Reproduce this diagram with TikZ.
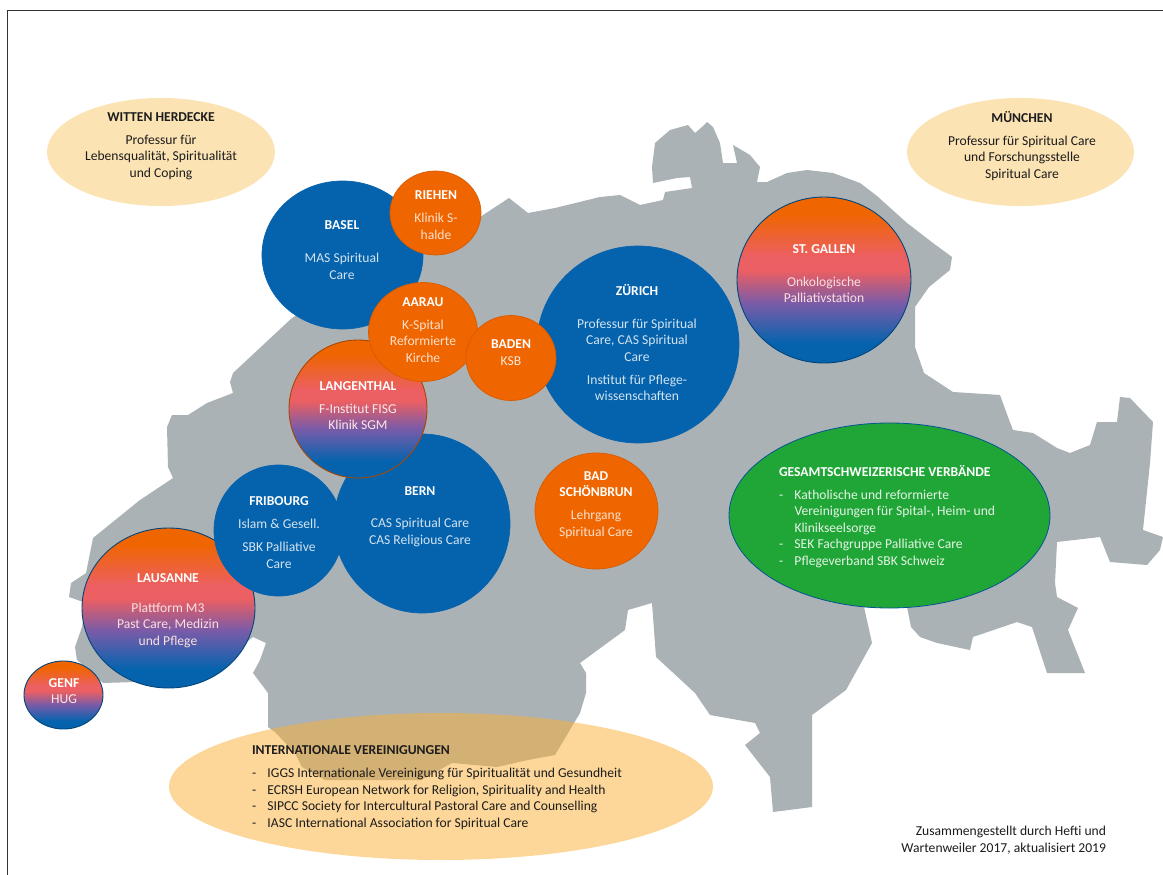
\documentclass[tikz,border=0pt]{standalone}
\usepackage{fontspec}
\setmainfont{Carlito}
\usetikzlibrary{shapes.geometric}
\definecolor{mapgrey}{HTML}{ABB2B6}
\definecolor{cblue}{HTML}{0563AE}
\definecolor{corange}{HTML}{EF6500}
\definecolor{csalmon}{HTML}{EC5F62}
\definecolor{cpurple}{HTML}{7A5BA8}
\definecolor{cgreen}{HTML}{20A636}
\definecolor{cpale}{HTML}{FBE3B4}
\definecolor{cintl}{HTML}{FBB034}
\definecolor{ink}{HTML}{1C1C1C}
\pgfdeclareverticalshading{palgrad}{100bp}{
  color(0bp)=(cblue); color(31bp)=(cblue); color(43bp)=(cpurple);
  color(53bp)=(csalmon); color(57bp)=(csalmon); color(70bp)=(corange); color(100bp)=(corange)}
\tikzset{
  bubble/.style={ellipse,inner sep=0pt,outer sep=0pt},
  blueb/.style={draw=cblue,line width=.7pt,fill=cblue},
  orangeb/.style={draw=corange!90!black,line width=.7pt,fill=corange},
  gradb/.style={draw=#1,line width=.9pt,shading=palgrad},
  paleb/.style={fill=cpale},
  txt/.style={inner sep=0pt,outer sep=0pt,align=center,font=\fontsize{13.6}{16.5}\selectfont},
  txtl/.style={txt,align=left,anchor=west},
  onblue/.style={txt,text=white},
  inkt/.style={txt,text=ink}
}
\newcommand{\hd}[1]{\textbf{\textcolor{white}{#1}}}
\newcommand{\hk}[1]{\textbf{#1}}
\newcommand{\li}{\makebox[15.5pt][l]{-}}
\newcommand{\ind}{\hspace*{15.5pt}}
\begin{document}
\begin{tikzpicture}[x=1pt,y=-1pt]
\useasboundingbox (0,0) rectangle (1163,875);
\fill[white] (0,0) rectangle (1163,875);
% frame, cropped at the right and at the bottom
\draw[line width=1pt,color=black!80] (7,875) -- (7,10.5) -- (1163,10.5);
% map of Switzerland
\fill[mapgrey] (173,478) -- (168,467) -- (167,427) -- (172,415) -- (188,415) -- (207,403)
 -- (233,393) -- (230,382) -- (233,373) -- (292,318) -- (400,250) -- (480,217) -- (509,198)
 -- (528,213) -- (555,208) -- (600,197) -- (620,195) -- (640,205) -- (663,200) -- (665,192)
 -- (692,188) -- (690,177) -- (677,178) -- (653,183) -- (652,167) -- (655,143) -- (670,130)
 -- (688,125) -- (695,133) -- (702,127) -- (707,122) -- (713,127) -- (720,143) -- (723,163)
 -- (737,163) -- (733,145) -- (750,155) -- (760,167) -- (757,182) -- (767,182) -- (787,173)
 -- (807,170) -- (833,173) -- (860,183) -- (877,196) -- (907,223) -- (933,243)
 -- (952,257) -- (950,270) -- (929,287) -- (915,307) -- (915,347) -- (924,373) -- (953,392)
 -- (1000,395) -- (1008,417) -- (1013,430) -- (1033,433) -- (1057,448) -- (1070,453)
 -- (1090,445) -- (1097,422) -- (1117,422) -- (1120,397) -- (1130,398) -- (1153,422)
 -- (1150,463) -- (1143,530) -- (1163,537) -- (1160,550) -- (1147,565) -- (1110,562)
 -- (1100,537) -- (1057,542) -- (1055,583) -- (1057,597) -- (1078,608) -- (1068,630)
 -- (1085,673) -- (1047,673) -- (1032,627) -- (1017,622) -- (973,637) -- (970,650)
 -- (937,643) -- (920,637) -- (911,627) -- (907,607) -- (864,607) -- (872,643) -- (846,690)
 -- (812,715) -- (812,807) -- (773,812) -- (770,777) -- (745,745) -- (760,733) -- (755,723)
 -- (710,715) -- (695,693) -- (656,657) -- (652,603) -- (628,610) -- (625,630) -- (580,663)
 -- (586,673) -- (586,693) -- (580,713) -- (574,723) -- (555,755) -- (528,760) -- (497,767)
 -- (452,763) -- (421,780) -- (325,780) -- (302,767) -- (295,753) -- (275,732) -- (268,727)
 -- (268,693) -- (253,673) -- (260,660) -- (266,643) -- (253,637) -- (200,680) -- (103,683)
 -- (77,660) -- (75,647) -- (82,627) -- (86,603) -- (69,597) -- (71,583) -- (86,573)
 -- (93,538) -- (140,500) -- cycle;
% pale ellipses
\node[bubble,paleb,minimum width=228pt,minimum height=108pt] (witten) at (161,152) {};
\node[bubble,paleb,minimum width=227pt,minimum height=108pt] (muenchen) at (1020.5,152) {};
\node[bubble,fill=cintl,fill opacity=.5,minimum width=544pt,minimum height=147pt] (intl) at (441,786.5) {};
% blue circles
\node[bubble,blueb,minimum width=161pt,minimum height=148pt] (basel) at (342.5,255) {};
\node[bubble,blueb,minimum width=202pt,minimum height=197pt] (zuerich) at (638,344.5) {};
\node[bubble,blueb,minimum width=176pt,minimum height=179pt] (bern) at (422,523.5) {};
% gradient and orange circles
\node[bubble,orangeb,minimum width=91pt,minimum height=84pt] (riehen) at (435.5,213) {};
\node[bubble,gradb=corange!70!black,minimum width=138pt,minimum height=138pt] (langenthal) at (358,409) {};
\node[bubble,orangeb,minimum width=109pt,minimum height=99pt] (aarau) at (423,332) {};
\node[bubble,orangeb,minimum width=90pt,minimum height=85pt] (baden) at (511,358) {};
\node[bubble,gradb=cblue!70!black,minimum width=174pt,minimum height=166pt] (gallen) at (824,280) {};
\node[bubble,orangeb,minimum width=123pt,minimum height=116pt] (schoenbrun) at (596.5,511) {};
\node[bubble,gradb=cblue!70!black,minimum width=173pt,minimum height=160pt] (lausanne) at (168.5,608) {};
\node[bubble,blueb,minimum width=129pt,minimum height=131pt] (fribourg) at (278.5,530.5) {};
\node[bubble,gradb=cblue!70!black,minimum width=79pt,minimum height=68pt] (genf) at (63.5,695) {};
\node[bubble,draw=cblue!85!black,line width=.8pt,fill=cgreen,minimum width=321pt,minimum height=185pt] (green) at (889.5,515.5) {};
% texts
\node[inkt] (wittenT) at (161,146) {\hk{WITTEN HERDECKE}\\[6.5pt]Professur für\\Lebensqualität, Spiritualität\\und Coping};
\node[inkt] (muenchenT) at (1022,146) {\hk{MÜNCHEN}\\[6.5pt]Professur für Spiritual Care\\und Forschungsstelle\\Spiritual Care};
\node[onblue,text=white!82!cblue] (baselT) at (342,250) {\hd{BASEL}\\[16.5pt]MAS Spiritual\\Care};
\node[onblue,text=white!80!corange] (riehenT) at (436,215) {\hd{RIEHEN}\\[6.5pt]Klinik S-\\halde};
\node[onblue,text=white!80!corange] (aarauT) at (423,330) {\hd{AARAU}\\[6.5pt]K-Spital\\Reformierte\\Kirche};
\node[onblue,text=white!85!corange] (badenT) at (511,352.5) {\hd{BADEN}\\KSB};
\node[onblue,text=white!85!csalmon] (langenthalT) at (358,405.5) {\hd{LANGENTHAL}\\[6.5pt]F-Institut FISG\\Klinik SGM};
\node[onblue,text=white!82!cblue] (zuerichT) at (637,342.5) {\hd{ZÜRICH}\\[16.5pt]Professur für Spiritual\\Care, CAS Spiritual\\Care\\[6.5pt]Institut für Pflege-\\wissenschaften};
\node[onblue,text=white!80!csalmon] (gallenT) at (824,273.5) {\hd{ST. GALLEN}\\[16.5pt]Onkologische\\Palliativstation};
\node[onblue,text=white!80!corange] (schoenbrunT) at (596,505) {\hd{BAD}\\\hd{SCHÖNBRUN}\\[6.5pt]Lehrgang\\Spiritual Care};
\node[onblue,text=white!82!cblue] (bernT) at (420,516.5) {\hd{BERN}\\[16pt]CAS Spiritual Care\\CAS Religious Care};
\node[onblue,text=white!82!cblue] (fribourgT) at (279,532.5) {\hd{FRIBOURG}\\[6.5pt]Islam \& Gesell.\\[6.5pt]SBK Palliative\\Care};
\node[onblue,text=white!80!csalmon] (lausanneT) at (168,610.5) {\hd{LAUSANNE}\\[13.5pt]Plattform M3\\Past Care, Medizin\\und Pflege};
\node[onblue,text=white!85!csalmon] (genfT) at (64,691) {\hd{GENF}\\HUG};
\node[txtl,text=white!88!cgreen] (greenT) at (779,516.5) {\hd{GESAMTSCHWEIZERISCHE VERBÄNDE}\\[6.5pt]\li Katholische und reformierte\\\ind Vereinigungen für Spital-, Heim- und\\\ind Klinikseelsorge\\\li SEK Fachgruppe Palliative Care\\\li Pflegeverband SBK Schweiz};
\node[txtl,text=ink] (intlT) at (252,787.5) {\hk{INTERNATIONALE VEREINIGUNGEN}\\[6.5pt]\li IGGS Internationale Vereinigung für Spiritualität und Gesundheit\\\li ECRSH European Network for Religion, Spirituality and Health\\\li SIPCC Society for Intercultural Pastoral Care and Counselling\\\li IASC International Association for Spiritual Care};
\node[inkt,align=right,anchor=east] (credit) at (1106,840) {Zusammengestellt durch Hefti und\\Wartenweiler 2017, aktualisiert 2019};
\end{tikzpicture}
\end{document}
